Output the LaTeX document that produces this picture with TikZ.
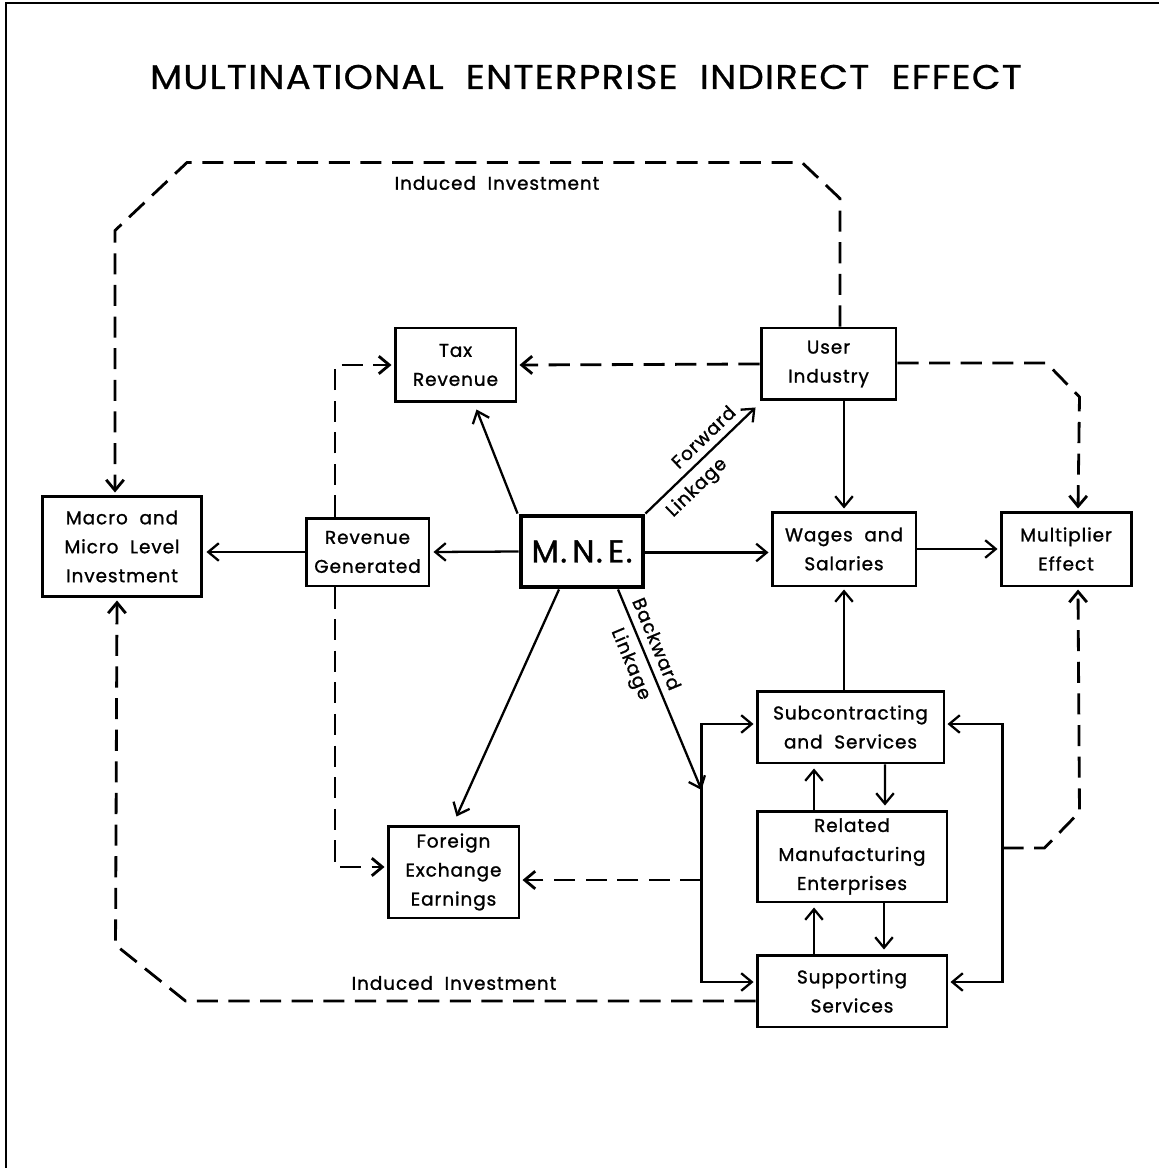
\documentclass[tikz,border=0pt]{standalone}
\usepackage{fontspec}
\usetikzlibrary{arrows.meta,calc}
\newfontfamily\bxfont{Poppins}[LetterSpace=5, FakeBold=1.2]
\newfontfamily\ttlfont{Poppins}[LetterSpace=3, FakeBold=0.6]
\newcommand\bfnt{\bxfont\fontsize{10.5}{16.5}\selectfont}
\begin{document}
\begin{tikzpicture}[x=0.02cm,y=-0.02cm,
  box/.style={draw, line width=1.7pt, inner sep=0pt, align=center, font=\bfnt},
  arr/.style={line width=1.3pt, -{Straight Barb[length=6pt,width=10pt]}},
  darr/.style={line width=1.6pt, dash pattern=on 12pt off 6pt, -{Straight Barb[length=6pt,width=10pt]}},
  lbl/.style={font=\bfnt, inner sep=2pt},
  slbl/.style={font=\bfnt, inner sep=4pt, sloped}]
\useasboundingbox (0,0) rectangle (1159,1168);
% frame
\draw[line width=1.6pt] (1159,3) -- (6,3) -- (6,1168);
% title
\node[font=\ttlfont\fontsize{19.5}{22}\selectfont] (title) at (586,77) {\resizebox{17.44cm}{\height}{MULTINATIONAL\ \ ENTERPRISE\ \ INDIRECT\ \ EFFECT}};
% boxes
\node[box, minimum width=2.42cm, minimum height=1.48cm] (tax) at (455.5,365) {Tax\\Revenue};
\node[box, minimum width=2.70cm, minimum height=1.44cm] (user) at (828.5,364) {User\\Industry};
\node[box, minimum width=2.46cm, minimum height=1.36cm] (rev) at (367.5,552) {Revenue\\Generated};
\node[box, line width=2.8pt, minimum width=2.44cm, minimum height=1.42cm, font=\bxfont\fontsize{18}{20}\selectfont] (mne) at (582,551.5) {M.\,N.\,E.};
\node[box, minimum width=3.20cm, minimum height=2.02cm] (macro) at (122,546.5) {Macro\ \ and\\Micro\ \ Level\\Investment};
\node[box, minimum width=2.88cm, minimum height=1.48cm] (wages) at (844,549) {Wages\ \ and\\Salaries};
\node[box, minimum width=2.60cm, minimum height=1.48cm] (mult) at (1066,549) {Multiplier\\Effect};
\node[box, minimum width=2.62cm, minimum height=1.84cm] (fx) at (453.5,872) {Foreign\\Exchange\\Earnings};
\node[box, minimum width=3.74cm, minimum height=1.44cm] (sub) at (850.5,727) {Subcontracting\\and\ \ Services};
\node[box, minimum width=3.80cm, minimum height=1.82cm] (rel) at (852,856.5) {Related\\Manufacturing\\Enterprises};
\node[box, minimum width=3.80cm, minimum height=1.44cm] (sup) at (852,991) {Supporting\\Services};
% labels
\node[lbl] (indtop) at (497,183) {Induced\ \ Investment};
\node[lbl] (indbot) at (454,983) {Induced\ \ Investment};
% bus coordinates
\coordinate (bk) at ($(sub.west)+(-54,63)$);
\coordinate (bfx) at ($(sub.west)+(-54,153)$);
\coordinate (bmu) at ($(sub.east)+(57,121)$);
% solid arrows from MNE
\draw[arr] ($(mne.north west)+(-1,0)$) -- ($(tax.south)+(21,6)$);
\draw[arr] (mne.west) -- ($(rev.east)+(3,0)$);
\draw[arr] (rev.west) -- ($(rev.west -| macro.east)+(3,0)$);
\draw[arr] ($(mne.east)+(0,1)$) -- ($(mne.east -| wages.west)+(-2,1)$);
\draw[arr] (wages.east) -- ($(mult.west)+(-2,0)$);
\draw[arr] (wages.north |- user.south) -- ($(wages.north)+(0,-2)$);
\draw[arr] (mne.north east) -- node[slbl, above, pos=0.62] (fwd) {Forward} node[slbl, below, pos=0.36] (fwdl) {Linkage} ($(user.south west)+(-4,6)$);
\draw[arr] ($(mne.south)+(-23,0)$) -- ($(fx.north)+(3,-8)$);
\draw[arr] ($(mne.south)+(36,0)$) -- node[slbl, above, pos=0.3] (bwd) {Backward} node[slbl, below, pos=0.34] (bwdl) {Linkage} (bk);
% buses
\draw[line width=1.3pt, {Straight Barb[length=6pt,width=10pt]}-{Straight Barb[length=6pt,width=10pt]}] ($(sub.west)+(-2,-3)$) -- ($(sub.west)+(-54,-3)$) |- ($(sup.west)+(-2,-9)$);
\draw[line width=1.3pt, {Straight Barb[length=6pt,width=10pt]}-{Straight Barb[length=6pt,width=10pt]}] ($(sub.east)+(2,-3)$) -- ($(sub.east)+(57,-3)$) |- ($(sup.east)+(2,-9)$);
\draw[arr] (wages.south |- sub.north) -- ($(wages.south)+(0,2)$);
\draw[arr] ($(rel.north)+(-38,0)$) -- ($(sub.south)+(-36.5,4)$);
\draw[arr] ($(sub.south)+(34.5,0)$) -- ($(rel.north)+(33,-4)$);
\draw[arr] ($(sup.north)+(-38,0)$) -- ($(rel.south)+(-38,4)$);
\draw[arr] ($(rel.south)+(32,0)$) -- ($(sup.north)+(32,-4)$);
% dashed connectors
\draw[darr] (user.west) -- ($(tax.east)+(2,0)$);
\draw[darr] ($(rev.north)+(-32.5,0)$) |- ($(tax.west)+(-2,0)$);
\draw[darr] ($(rev.south)+(-32.5,0)$) |- ($(fx.west)+(-2,-5)$);
\draw[darr] (bfx) -- ($(bfx -| fx.east)+(2,0)$);
\draw[darr] ($(user.north)+(11.5,0)$) -- ++(0,-128) -- ++(-38,-36) -- ++(-615,0) -- ++(-72,68) -- ($(macro.north)+(-7,-2)$);
\draw[darr] ($(sup.west)+(0,10)$) -- ++(-570,0) -- ++(-70,-56) -- ($(macro.south)+(-5,2)$);
\draw[darr] ($(user.east)+(0,-1)$) -- ++(149,0) -- ++(33,34) -- ($(mult.north)+(12,-2)$);
\draw[darr] (bmu) -- ++(42,0) -- ++(35,-36) -- ($(mult.south)+(12,2)$);
\end{tikzpicture}
\end{document}
